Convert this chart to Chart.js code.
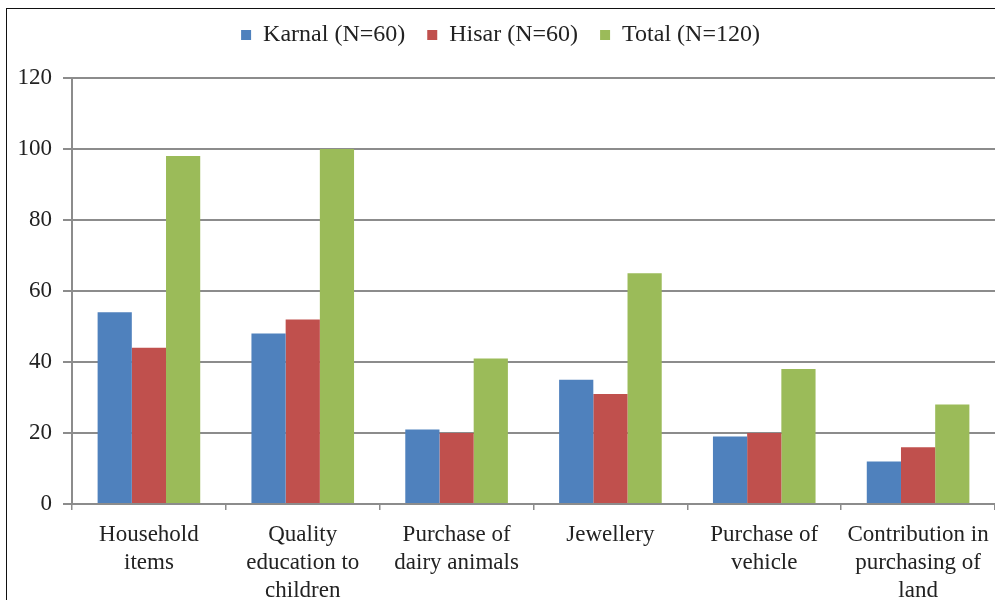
<!DOCTYPE html>
<html>
<head>
<meta charset="utf-8">
<script src="https://cdn.jsdelivr.net/npm/chart.js@4"></script>
<style>
  html, body { margin: 0; padding: 0; background: #fff; }
  #wrap { position: relative; width: 995px; height: 600px; }
  #frame { position: absolute; left: 6px; top: 8px; right: 0; bottom: 0;
           border-left: 1.5px solid #111; border-top: 1.5px solid #111; pointer-events: none; }
</style>
</head>
<body>
<div id="wrap">
  <canvas id="spendChart" width="995" height="600"></canvas>
  <div id="frame"></div>
</div>
<script>
var categories = [
  ["Household", "items"],
  ["Quality", "education to", "children"],
  ["Purchase of", "dairy animals"],
  ["Jewellery"],
  ["Purchase of", "vehicle"],
  ["Contribution in", "purchasing of", "land"]
];
var karnal = [54, 48, 21, 35, 19, 12];
var hisar = [44, 52, 20, 31, 20, 16];
var total = [98, 100, 41, 65, 38, 28];
var yTicks = [0, 20, 40, 60, 80, 100, 120];

var serif = "'Liberation Serif', 'Times New Roman', serif";

// extra room between the legend row and the plot
var legendGap = {
  id: 'legendGap',
  beforeInit: function(chart) {
    var fit = chart.legend.fit;
    chart.legend.fit = function() {
      fit.call(chart.legend);
      this.height += 21;
    };
  }
};

window.onload = function() {
  var ctx = document.getElementById("spendChart").getContext("2d");

  new Chart(ctx, {
    type: 'bar',
    data: {
      labels: categories,
      datasets: [
        { label: 'Karnal (N=60)', data: karnal, backgroundColor: '#4f81bd' },
        { label: 'Hisar (N=60)', data: hisar, backgroundColor: '#c0504d' },
        { label: 'Total (N=120)', data: total, backgroundColor: '#9bbb59' }
      ]
    },
    options: {
      responsive: false,
      animation: false,
      datasets: {
        bar: { categoryPercentage: 0.667, barPercentage: 1.0 }
      },
      layout: { padding: { left: 6, right: 0, top: 1, bottom: 0 } },
      scales: {
        x: {
          grid: { display: true, drawOnChartArea: false, color: '#8c8c8c', lineWidth: 1.5, tickLength: 6, offset: true },
          border: { color: '#8c8c8c', width: 2 },
          ticks: { color: '#222', font: { family: serif, size: 23, lineHeight: 1.22 }, maxRotation: 0, autoSkip: false, padding: 11 },
          afterFit: function(scale) {
            scale.height = 96;
            // let the last label run off the edge instead of shrinking the plot
            scale.paddingLeft = 0;
            scale.paddingRight = 0;
          }
        },
        y: {
          min: 0,
          max: 120,
          afterBuildTicks: function(scale) {
            scale.ticks = yTicks.map(function(v) { return { value: v }; });
          },
          grid: { color: '#8c8c8c', lineWidth: 2, tickLength: 9 },
          border: { color: '#8c8c8c', width: 2 },
          ticks: { color: '#222', font: { family: serif, size: 23 }, padding: 11 },
          afterFit: function(scale) { scale.width = 66; }
        }
      },
      plugins: {
        legend: {
          position: 'top',
          labels: {
            color: '#222',
            font: { family: serif, size: 24 },
            boxWidth: 10,
            boxHeight: 10,
            padding: 22
          }
        },
        tooltip: { enabled: false }
      }
    },
    plugins: [legendGap]
  });
};
</script>
</body>
</html>
